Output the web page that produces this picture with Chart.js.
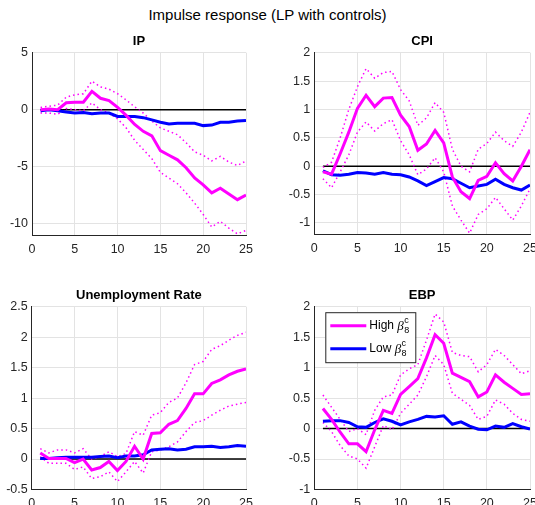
<!DOCTYPE html>
<html>
<head>
<meta charset="utf-8">
<script src="https://cdn.jsdelivr.net/npm/chart.js@4.4.1/dist/chart.umd.min.js"></script>
<style>
  html, body { margin: 0; padding: 0; background: #fff; overflow: hidden; }
  body { width: 535px; height: 505px; position: relative; }
  #mainTitle {
    position: absolute; left: 0; top: 6px; width: 535px;
    text-align: center; font: 15px "Liberation Sans", Arial, sans-serif; color: #000;
  }
  .panel { position: absolute; }
</style>
</head>
<body>
<div id="mainTitle">Impulse response (LP with controls)</div>
<div class="panel" style="left:0;top:25px;width:262px;height:235px"><canvas id="ipChart"></canvas></div>
<div class="panel" style="left:265px;top:25px;width:280px;height:235px"><canvas id="cpiChart"></canvas></div>
<div class="panel" style="left:0;top:278px;width:262px;height:237px"><canvas id="urChart"></canvas></div>
<div class="panel" style="left:265px;top:278px;width:280px;height:237px"><canvas id="ebpChart"></canvas></div>
<script>
// horizons (months)
const horizons = [1, 2, 3, 4, 5, 6, 7, 8, 9, 10, 11, 12, 13, 14, 15, 16, 17, 18, 19, 20, 21, 22, 23, 24, 25];
const zeroLine = [0, 0, 0, 0, 0, 0, 0, 0, 0, 0, 0, 0, 0, 0, 0, 0, 0, 0, 0, 0, 0, 0, 0, 0, 0];
const xTicks = [0, 5, 10, 15, 20, 25];

// IP
const ipHigh = [0, 0.05, 0, 0.6, 0.65, 0.65, 1.6, 1.0, 0.8, 0.2, -0.5, -1.3, -1.9, -2.3, -3.6, -4.0, -4.4, -5.1, -6.0, -6.6, -7.3, -6.9, -7.4, -7.9, -7.5];
const ipHighUp = [0.2, 0.3, 0.4, 1.1, 1.3, 1.4, 2.5, 2.0, 1.8, 1.4, 0.85, 0.25, -0.3, -1.0, -1.6, -1.9, -2.2, -2.9, -3.7, -4.0, -4.5, -4.1, -4.6, -4.9, -4.5];
const ipHighLo = [-0.3, -0.3, -0.4, 0.1, 0, -0.1, 0.6, 0, -0.3, -0.8, -1.6, -2.7, -3.5, -4.3, -5.5, -6.0, -6.5, -7.3, -8.2, -9.2, -10.3, -9.8, -10.4, -10.9, -10.6];
const ipLow = [-0.1, 0, -0.1, -0.2, -0.3, -0.25, -0.35, -0.3, -0.3, -0.6, -0.6, -0.6, -0.7, -0.9, -1.1, -1.25, -1.2, -1.2, -1.2, -1.4, -1.35, -1.1, -1.1, -1.0, -0.95];
const ipTicks = [-10, -5, 0, 5];

// CPI
const cpiHigh = [-0.1, -0.14, 0.22, 0.6, 1.02, 1.25, 1.05, 1.2, 1.21, 0.9, 0.7, 0.28, 0.39, 0.63, 0.41, -0.19, -0.45, -0.57, -0.25, -0.18, 0.06, -0.13, -0.26, 0, 0.29];
const cpiHighUp = [-0.02, 0.07, 0.5, 1.0, 1.4, 1.72, 1.55, 1.65, 1.67, 1.35, 1.15, 0.72, 0.85, 1.12, 0.95, 0.3, 0, -0.1, 0.3, 0.4, 0.6, 0.45, 0.35, 0.6, 0.95];
const cpiHighLo = [-0.22, -0.38, -0.1, 0.2, 0.6, 0.78, 0.62, 0.75, 0.82, 0.45, 0.2, -0.15, -0.05, 0.15, -0.1, -0.7, -0.95, -1.18, -0.85, -0.75, -0.55, -0.75, -0.95, -0.7, -0.4];
const cpiLow = [-0.08, -0.15, -0.16, -0.14, -0.11, -0.12, -0.14, -0.11, -0.14, -0.15, -0.19, -0.26, -0.34, -0.27, -0.2, -0.22, -0.3, -0.38, -0.35, -0.32, -0.23, -0.32, -0.38, -0.42, -0.33];
const cpiTicks = [-1, -0.5, 0, 0.5, 1, 1.5, 2];

// Unemployment rate
const urHigh = [0.1, 0.01, 0.01, 0.01, -0.06, 0, -0.18, -0.14, -0.04, -0.19, -0.04, 0.21, 0, 0.42, 0.43, 0.57, 0.63, 0.83, 1.07, 1.07, 1.24, 1.3, 1.38, 1.44, 1.48];
const urHighUp = [0.17, 0.1, 0.15, 0.15, 0.1, 0.17, 0, 0.04, 0.12, 0.04, 0.09, 0.45, 0.39, 0.72, 0.76, 0.93, 1.0, 1.25, 1.55, 1.6, 1.8, 1.86, 1.95, 2.03, 2.08];
const urHighLo = [0.04, -0.07, -0.07, -0.07, -0.17, -0.13, -0.32, -0.29, -0.21, -0.37, -0.21, -0.04, -0.23, 0.12, 0.15, 0.2, 0.28, 0.45, 0.6, 0.63, 0.72, 0.8, 0.87, 0.9, 0.93];
const urLow = [0.01, 0.01, 0.02, 0.03, 0.03, 0.03, 0.03, 0.04, 0.05, 0.02, 0.05, 0.05, 0.07, 0.15, 0.16, 0.17, 0.15, 0.16, 0.2, 0.2, 0.21, 0.19, 0.2, 0.22, 0.21];
const urTicks = [-0.5, 0, 0.5, 1, 1.5, 2, 2.5];

// EBP
const ebpHigh = [0.33, 0.15, -0.06, -0.25, -0.25, -0.38, -0.02, 0.3, 0.25, 0.56, 0.69, 0.82, 1.16, 1.54, 1.4, 0.91, 0.84, 0.77, 0.52, 0.6, 0.88, 0.76, 0.66, 0.56, 0.57];
const ebpHighUp = [0.55, 0.35, 0.15, -0.05, 0, -0.1, 0.3, 0.52, 0.55, 0.88, 0.98, 1.05, 1.45, 1.88, 1.75, 1.25, 1.2, 1.18, 0.93, 1.05, 1.3, 1.2, 1.05, 0.9, 0.95];
const ebpHighLo = [0.1, -0.05, -0.28, -0.45, -0.5, -0.65, -0.3, 0.05, -0.02, 0.25, 0.4, 0.55, 0.85, 1.2, 1.05, 0.58, 0.48, 0.38, 0.15, 0.2, 0.47, 0.4, 0.25, 0.15, 0.12];
const ebpLow = [0.12, 0.13, 0.13, 0.1, 0.03, 0.02, 0.1, 0.16, 0.12, 0.06, 0.11, 0.15, 0.2, 0.19, 0.21, 0.07, 0.11, 0.04, -0.01, -0.02, 0.04, 0.02, 0.08, 0.03, -0.01];
const ebpTicks = [-1, -0.5, 0, 0.5, 1, 1.5, 2];

const legendLabels = ['High', 'Low'];

const MAGENTA = '#ff00ff';
const BLUE = '#0000ff';
const AXIS = '#262626';
const GRID = '#e3e3e3';
const FONT = '"Liberation Sans", Arial, sans-serif';

const pts = (vals) => vals.map((v, i) => ({ x: horizons[i], y: v }));

// legend drawn inside the EBP axes, matlab style
const boxLegend = {
  id: 'boxLegend',
  afterDatasetsDraw(chart) {
    const { ctx, chartArea } = chart;
    const x0 = chartArea.left + 11;
    const y0 = chartArea.top + 5.5;
    const w = 90, h = 50;
    ctx.save();
    ctx.fillStyle = '#fff';
    ctx.fillRect(x0, y0, w, h);
    ctx.strokeStyle = '#262626';
    ctx.lineWidth = 1;
    ctx.strokeRect(x0 + 0.5, y0 + 0.5, w, h);
    [MAGENTA, BLUE].forEach((col, i) => {
      const y = y0 + 13.5 + i * 23;
      ctx.strokeStyle = col;
      ctx.lineWidth = 3;
      ctx.beginPath();
      ctx.moveTo(x0 + 5, y);
      ctx.lineTo(x0 + 41, y);
      ctx.stroke();
      ctx.fillStyle = '#000';
      ctx.textBaseline = 'middle';
      ctx.font = '12px ' + FONT;
      const label = legendLabels[i] + ' ';
      ctx.fillText(label, x0 + 44, y);
      let xx = x0 + 44 + ctx.measureText(label).width;
      ctx.font = 'italic 13px "Liberation Serif", serif';
      ctx.fillText('β', xx, y + 1);
      xx += ctx.measureText('β').width + 0.5;
      ctx.font = '9px ' + FONT;
      ctx.fillText('c', xx, y - 5);
      ctx.fillText('8', xx, y + 5);
    });
    ctx.restore();
  }
};

function makePanel(id, title, high, up, lo, low, yMin, yMax, yTicks, yWidth, rightPad, titlePad, xHeight, withLegend) {
  new Chart(document.getElementById(id), {
    type: 'line',
    data: {
      datasets: [
        { data: pts(high), borderColor: MAGENTA, borderWidth: 3, order: 1 },
        { data: pts(up), borderColor: MAGENTA, borderWidth: 1.5, borderDash: [1.5, 3], order: 3 },
        { data: pts(lo), borderColor: MAGENTA, borderWidth: 1.5, borderDash: [1.5, 3], order: 3 },
        { data: pts(low), borderColor: BLUE, borderWidth: 3, order: 2 },
        { data: pts(zeroLine), borderColor: '#000', borderWidth: 1.5, order: 4 },
      ],
    },
    options: {
      responsive: true,
      maintainAspectRatio: false,
      animation: false,
      elements: { point: { radius: 0 }, line: { tension: 0, fill: false } },
      layout: { padding: { left: 0, right: rightPad, top: 0, bottom: 0 } },
      plugins: {
        legend: { display: false },
        tooltip: { enabled: false },
        title: {
          display: true,
          text: title,
          fullSize: false,
          color: '#000',
          font: { family: FONT, size: 13, weight: 'bold' },
          padding: titlePad,
        },
      },
      scales: {
        x: {
          type: 'linear',
          min: 0,
          max: 25,
          afterBuildTicks: (s) => { s.ticks = xTicks.map((v) => ({ value: v })); },
          afterFit: (s) => { s.height = xHeight; },
          ticks: { color: AXIS, font: { family: FONT, size: 12.5 }, padding: 7, maxRotation: 0 },
          grid: { color: GRID, drawTicks: false },
          border: { color: AXIS, width: 1 },
        },
        y: {
          min: yMin,
          max: yMax,
          afterBuildTicks: (s) => { s.ticks = yTicks.map((v) => ({ value: v })); },
          afterFit: (s) => { s.width = yWidth; },
          ticks: { color: AXIS, font: { family: FONT, size: 12.5 }, padding: 4, callback: (v) => String(v) },
          grid: { color: GRID, drawTicks: false },
          border: { color: AXIS, width: 1 },
        },
      },
    },
    plugins: withLegend ? [boxLegend] : [],
  });
}

makePanel('ipChart', 'IP', ipHigh, ipHighUp, ipHighLo, ipLow, -11, 5, ipTicks, 32, 16, { top: 9, bottom: 3.1 }, 25, false);
makePanel('cpiChart', 'CPI', cpiHigh, cpiHighUp, cpiHighLo, cpiLow, -1.2, 2, cpiTicks, 49.3, 15, { top: 9, bottom: 3.1 }, 25.7, false);
makePanel('urChart', 'Unemployment Rate', urHigh, urHighUp, urHighLo, urLow, -0.5, 2.5, urTicks, 31.7, 16, { top: 9.2, bottom: 3.9 }, 25.5, false);
makePanel('ebpChart', 'EBP', ebpHigh, ebpHighUp, ebpHighLo, ebpLow, -1, 2, ebpTicks, 49.3, 15, { top: 9.2, bottom: 3.9 }, 25.5, true);
</script>
</body>
</html>
